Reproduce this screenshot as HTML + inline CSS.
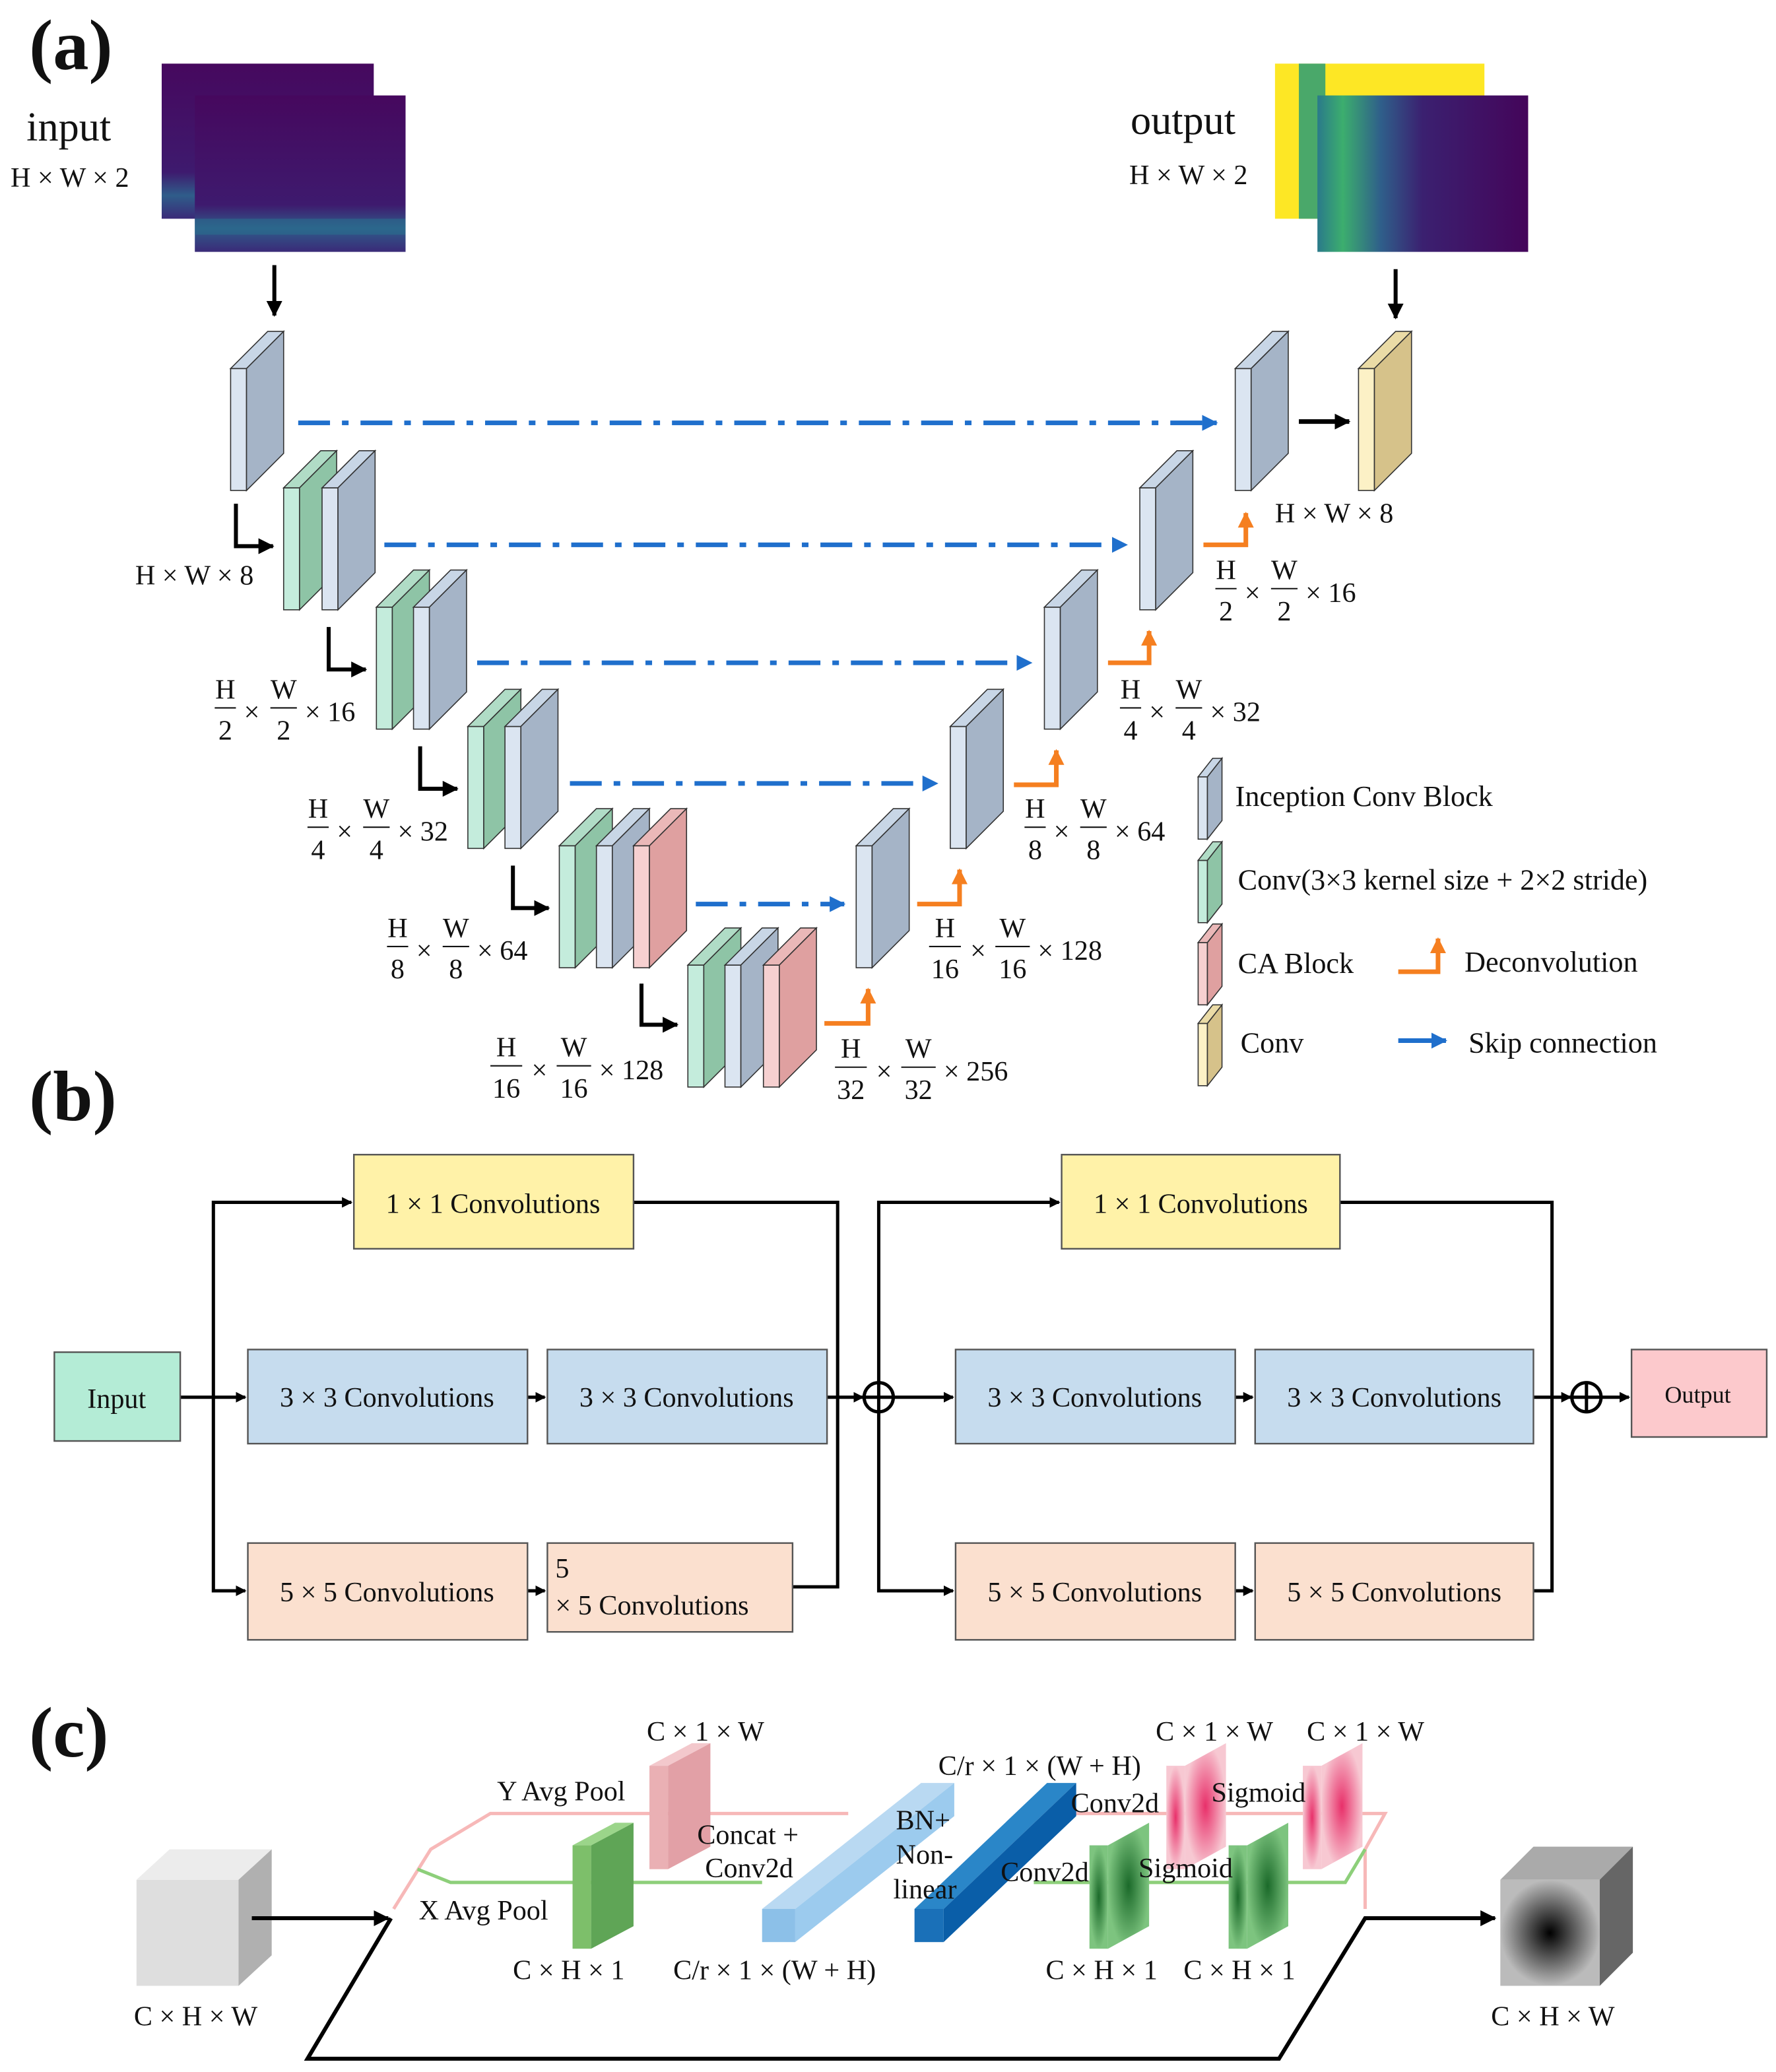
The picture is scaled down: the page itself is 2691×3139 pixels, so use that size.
<!DOCTYPE html>
<html><head><meta charset="utf-8"><style>html,body{margin:0;padding:0;background:#fff}svg{display:block}text{font-family:"Liberation Serif",serif;fill:#111}</style></head>
<body>
<svg width="2691" height="3139" viewBox="0 0 1340 1563" preserveAspectRatio="none" xmlns="http://www.w3.org/2000/svg">
<defs>
<linearGradient id="spec" x1="0" y1="0" x2="0" y2="1"><stop offset="0" stop-color="#46085e"/><stop offset="0.7" stop-color="#3e1a6e"/><stop offset="0.85" stop-color="#2f5d8a"/><stop offset="1" stop-color="#3a2a78"/></linearGradient>
<linearGradient id="spec2" x1="0" y1="0" x2="1" y2="0"><stop offset="0" stop-color="#2a7a8a"/><stop offset="0.12" stop-color="#3cae6e"/><stop offset="0.3" stop-color="#2f5f8a"/><stop offset="0.5" stop-color="#3b2070"/><stop offset="1" stop-color="#44055a"/></linearGradient>
<radialGradient id="gg"><stop offset="0" stop-color="#1b6a2a"/><stop offset="1" stop-color="#7dc47f"/></radialGradient>
<radialGradient id="pg"><stop offset="0" stop-color="#e8306a"/><stop offset="1" stop-color="#f7c8d2"/></radialGradient>
<radialGradient id="dg"><stop offset="0" stop-color="#000"/><stop offset="1" stop-color="#bbb"/></radialGradient>
<marker id="ab" markerWidth="8" markerHeight="8" refX="7" refY="4" orient="auto" markerUnits="userSpaceOnUse"><path d="M0,0 L8,4 L0,8z" fill="#000"/></marker>
<marker id="ab2" markerWidth="12" markerHeight="12" refX="11" refY="6" orient="auto" markerUnits="userSpaceOnUse"><path d="M0,0 L12,6 L0,12z" fill="#000"/></marker>
<marker id="abl" markerWidth="12" markerHeight="12" refX="11" refY="6" orient="auto" markerUnits="userSpaceOnUse"><path d="M0,0 L12,6 L0,12z" fill="#1f6fcc"/></marker>
<marker id="ao" markerWidth="12" markerHeight="12" refX="11" refY="6" orient="auto" markerUnits="userSpaceOnUse"><path d="M0,0 L12,6 L0,12z" fill="#f57f20"/></marker>
<g id="B"><rect x="0" y="0" width="12" height="92" fill="#dbe5f1" stroke="#333" stroke-width="0.8"/><polygon points="0,0 12,0 40,-28 28,-28" fill="#c8d6e6" stroke="#333" stroke-width="0.8"/><polygon points="12,0 40,-28 40,64 12,92" fill="#a5b4c7" stroke="#333" stroke-width="0.8"/></g>
<g id="G"><rect x="0" y="0" width="12" height="92" fill="#c4ecdc" stroke="#333" stroke-width="0.8"/><polygon points="0,0 12,0 40,-28 28,-28" fill="#b0dcc6" stroke="#333" stroke-width="0.8"/><polygon points="12,0 40,-28 40,64 12,92" fill="#8ec4a6" stroke="#333" stroke-width="0.8"/></g>
<g id="P"><rect x="0" y="0" width="12" height="92" fill="#f6d0d0" stroke="#333" stroke-width="0.8"/><polygon points="0,0 12,0 40,-28 28,-28" fill="#eab8b8" stroke="#333" stroke-width="0.8"/><polygon points="12,0 40,-28 40,64 12,92" fill="#dfa0a0" stroke="#333" stroke-width="0.8"/></g>
<g id="Y"><rect x="0" y="0" width="12" height="92" fill="#fcf1c6" stroke="#333" stroke-width="0.8"/><polygon points="0,0 12,0 40,-28 28,-28" fill="#eadba6" stroke="#333" stroke-width="0.8"/><polygon points="12,0 40,-28 40,64 12,92" fill="#d6c28a" stroke="#333" stroke-width="0.8"/></g>
</defs>

<!-- (a) -->
<text x="22" y="52" font-size="54" font-weight="bold">(a)</text>
<text x="20" y="106" font-size="31">input</text>
<text x="8" y="141" font-size="21">H × W × 2</text>
<rect x="122" y="48" width="160" height="117" fill="url(#spec)"/>
<rect x="147" y="72" width="159" height="118" fill="url(#spec)"/>
<rect x="147" y="165" width="159" height="12" fill="#2a6e8e" opacity="0.6"/>
<text x="853" y="101" font-size="31">output</text>
<text x="852" y="139" font-size="21">H × W × 2</text>
<rect x="962" y="48" width="158" height="117" fill="#fde725"/>
<rect x="980" y="48" width="20" height="117" fill="#4aa86a"/>
<rect x="994" y="72" width="159" height="118" fill="url(#spec2)"/>
<line x1="207" y1="200" x2="207" y2="238" stroke="#000" stroke-width="3" marker-end="url(#ab2)"/>
<line x1="1053" y1="203" x2="1053" y2="240" stroke="#000" stroke-width="3" marker-end="url(#ab2)"/>

<g stroke="#1f6fcc" stroke-width="3.5" fill="none" stroke-dasharray="24 9 5 9">
<line x1="225" y1="319" x2="918" y2="319" marker-end="url(#abl)"/>
<line x1="290" y1="411" x2="850" y2="411" marker-end="url(#abl)"/>
<line x1="360" y1="500" x2="778" y2="500" marker-end="url(#abl)"/>
<line x1="430" y1="591" x2="707" y2="591" marker-end="url(#abl)"/>
<line x1="525" y1="682" x2="637" y2="682" marker-end="url(#abl)"/>
</g>
<line x1="980" y1="318" x2="1018" y2="318" stroke="#000" stroke-width="3.5" marker-end="url(#ab2)"/>
<g stroke="#000" stroke-width="3" fill="none">
<polyline points="178,380 178,412 206,412" marker-end="url(#ab2)"/>
<polyline points="248,473 248,505 276,505" marker-end="url(#ab2)"/>
<polyline points="317,563 317,595 345,595" marker-end="url(#ab2)"/>
<polyline points="387,653 387,685 414,685" marker-end="url(#ab2)"/>
<polyline points="484,742 484,773 511,773" marker-end="url(#ab2)"/>
</g>
<g stroke="#f57f20" stroke-width="3.5" fill="none">
<polyline points="622,772 655,772 655,746" marker-end="url(#ao)"/>
<polyline points="692,682 724,682 724,656" marker-end="url(#ao)"/>
<polyline points="765,592 797,592 797,566" marker-end="url(#ao)"/>
<polyline points="836,500 867,500 867,476" marker-end="url(#ao)"/>
<polyline points="908,411 940,411 940,387" marker-end="url(#ao)"/>
</g>

<use href="#B" x="174" y="278"/>
<use href="#G" x="214" y="368"/><use href="#B" x="243" y="368"/>
<use href="#G" x="284" y="458"/><use href="#B" x="312" y="458"/>
<use href="#G" x="353" y="548"/><use href="#B" x="381" y="548"/>
<use href="#G" x="422" y="638"/><use href="#B" x="450" y="638"/><use href="#P" x="478" y="638"/>
<use href="#G" x="519" y="728"/><use href="#B" x="547" y="728"/><use href="#P" x="576" y="728"/>
<use href="#B" x="646" y="638"/>
<use href="#B" x="717" y="548"/>
<use href="#B" x="788" y="458"/>
<use href="#B" x="860" y="368"/>
<use href="#B" x="932" y="278"/>
<use href="#Y" x="1025" y="278"/>

<g font-size="21">
<text x="102" y="441">H × W × 8</text>
<text x="962" y="394">H × W × 8</text>
</g>
<g font-size="21" text-anchor="middle">
<g transform="translate(162,0)"><text x="8" y="527">H</text><line x1="0" y1="534" x2="16" y2="534" stroke="#111"/><text x="8" y="558">2</text><text x="28" y="544">×</text><text x="52" y="527">W</text><line x1="42" y1="534" x2="62" y2="534" stroke="#111"/><text x="68" y="544" text-anchor="start">× 16</text></g>
<g transform="translate(232,90)"><text x="8" y="527">H</text><line x1="0" y1="534" x2="16" y2="534" stroke="#111"/><text x="8" y="558">4</text><text x="28" y="544">×</text><text x="52" y="527">W</text><line x1="42" y1="534" x2="62" y2="534" stroke="#111"/><text x="52" y="558">4</text><text x="68" y="544" text-anchor="start">× 32</text></g>
<g transform="translate(292,180)"><text x="8" y="527">H</text><line x1="0" y1="534" x2="16" y2="534" stroke="#111"/><text x="8" y="558">8</text><text x="28" y="544">×</text><text x="52" y="527">W</text><line x1="42" y1="534" x2="62" y2="534" stroke="#111"/><text x="52" y="558">8</text><text x="68" y="544" text-anchor="start">× 64</text></g>
<g transform="translate(370,270)"><text x="12" y="527">H</text><line x1="0" y1="534" x2="24" y2="534" stroke="#111"/><text x="12" y="558">16</text><text x="37" y="544">×</text><text x="63" y="527">W</text><line x1="50" y1="534" x2="76" y2="534" stroke="#111"/><text x="63" y="558">16</text><text x="82" y="544" text-anchor="start">× 128</text></g>
<g transform="translate(630,271)"><text x="12" y="527">H</text><line x1="0" y1="534" x2="24" y2="534" stroke="#111"/><text x="12" y="558">32</text><text x="37" y="544">×</text><text x="63" y="527">W</text><line x1="50" y1="534" x2="76" y2="534" stroke="#111"/><text x="63" y="558">32</text><text x="82" y="544" text-anchor="start">× 256</text></g>
<g transform="translate(701,180)"><text x="12" y="527">H</text><line x1="0" y1="534" x2="24" y2="534" stroke="#111"/><text x="12" y="558">16</text><text x="37" y="544">×</text><text x="63" y="527">W</text><line x1="50" y1="534" x2="76" y2="534" stroke="#111"/><text x="63" y="558">16</text><text x="82" y="544" text-anchor="start">× 128</text></g>
<g transform="translate(773,90)"><text x="8" y="527">H</text><line x1="0" y1="534" x2="16" y2="534" stroke="#111"/><text x="8" y="558">8</text><text x="28" y="544">×</text><text x="52" y="527">W</text><line x1="42" y1="534" x2="62" y2="534" stroke="#111"/><text x="52" y="558">8</text><text x="68" y="544" text-anchor="start">× 64</text></g>
<g transform="translate(845,0)"><text x="8" y="527">H</text><line x1="0" y1="534" x2="16" y2="534" stroke="#111"/><text x="8" y="558">4</text><text x="28" y="544">×</text><text x="52" y="527">W</text><line x1="42" y1="534" x2="62" y2="534" stroke="#111"/><text x="52" y="558">4</text><text x="68" y="544" text-anchor="start">× 32</text></g>
<g transform="translate(917,-90)"><text x="8" y="527">H</text><line x1="0" y1="534" x2="16" y2="534" stroke="#111"/><text x="8" y="558">2</text><text x="28" y="544">×</text><text x="52" y="527">W</text><line x1="42" y1="534" x2="62" y2="534" stroke="#111"/><text x="52" y="558">2</text><text x="68" y="544" text-anchor="start">× 16</text></g>
</g>
<text x="214" y="558" font-size="21" text-anchor="middle">2</text>

<!-- legend -->
<g stroke="#333" stroke-width="0.8">
<rect x="904" y="586" width="7" height="47" fill="#dbe5f1"/><polygon points="911,586 922,572 922,619 911,633" fill="#a5b4c7"/><polygon points="904,586 911,586 922,572 915,572" fill="#c8d6e6"/>
<rect x="904" y="649" width="7" height="47" fill="#c4ecdc"/><polygon points="911,649 922,635 922,682 911,696" fill="#8ec4a6"/><polygon points="904,649 911,649 922,635 915,635" fill="#b0dcc6"/>
<rect x="904" y="711" width="7" height="47" fill="#f6d0d0"/><polygon points="911,711 922,697 922,744 911,758" fill="#dfa0a0"/><polygon points="904,711 911,711 922,697 915,697" fill="#eab8b8"/>
<rect x="904" y="772" width="7" height="47" fill="#fcf1c6"/><polygon points="911,772 922,758 922,805 911,819" fill="#d6c28a"/><polygon points="904,772 911,772 922,758 915,758" fill="#eadba6"/>
</g>
<g font-size="22">
<text x="932" y="608">Inception Conv Block</text>
<text x="934" y="671">Conv(3×3 kernel size + 2×2 stride)</text>
<text x="934" y="734">CA Block</text>
<text x="936" y="794">Conv</text>
<text x="1105" y="733">Deconvolution</text>
<text x="1108" y="794">Skip connection</text>
</g>
<polyline points="1055,733 1085,733 1085,708" stroke="#f57f20" stroke-width="3.5" fill="none" marker-end="url(#ao)"/>
<line x1="1055" y1="785" x2="1091" y2="785" stroke="#1f6fcc" stroke-width="3.5" marker-end="url(#abl)"/>

<!-- (b) -->
<text x="22" y="845" font-size="54" font-weight="bold">(b)</text>
<g stroke="#000" stroke-width="2.5" fill="none">
<line x1="136" y1="1054" x2="185" y2="1054" marker-end="url(#ab)"/>
<polyline points="265,907 161,907 161,1200 185,1200" marker-end="url(#ab)"/>
<line x1="161" y1="907" x2="265" y2="907" marker-end="url(#ab)"/>
<line x1="398" y1="1054" x2="411" y2="1054" marker-end="url(#ab)"/>
<line x1="398" y1="1200" x2="411" y2="1200" marker-end="url(#ab)"/>
<polyline points="478,907 632,907 632,1197 598,1197"/>
<line x1="624" y1="1054" x2="651" y2="1054" marker-end="url(#ab)"/>
<line x1="674" y1="1054" x2="719" y2="1054" marker-end="url(#ab)"/>
<polyline points="799,907 663,907 663,1200 719,1200" marker-end="url(#ab)"/>
<line x1="663" y1="907" x2="799" y2="907" marker-end="url(#ab)"/>
<line x1="932" y1="1054" x2="945" y2="1054" marker-end="url(#ab)"/>
<line x1="932" y1="1200" x2="945" y2="1200" marker-end="url(#ab)"/>
<polyline points="1011,907 1171,907 1171,1200 1157,1200"/>
<line x1="1157" y1="1054" x2="1185" y2="1054" marker-end="url(#ab)"/>
<line x1="1209" y1="1054" x2="1229" y2="1054" marker-end="url(#ab)"/>
<circle cx="663" cy="1054" r="11" fill="#fff"/><line x1="652" y1="1054" x2="674" y2="1054"/><line x1="663" y1="1043" x2="663" y2="1065"/>
<circle cx="1197" cy="1054" r="11" fill="#fff"/><line x1="1186" y1="1054" x2="1208" y2="1054"/><line x1="1197" y1="1043" x2="1197" y2="1065"/>
</g>
<g stroke="#555" stroke-width="1.2" font-size="21">
<rect x="41" y="1020" width="95" height="67" fill="#b4ecd6"/>
<rect x="267" y="871" width="211" height="71" fill="#fff2a8"/>
<rect x="187" y="1018" width="211" height="71" fill="#c6dcee"/>
<rect x="413" y="1018" width="211" height="71" fill="#c6dcee"/>
<rect x="187" y="1164" width="211" height="73" fill="#fbe0cf"/>
<rect x="413" y="1164" width="185" height="67" fill="#fbe0cf"/>
<rect x="801" y="871" width="210" height="71" fill="#fff2a8"/>
<rect x="721" y="1018" width="211" height="71" fill="#c6dcee"/>
<rect x="947" y="1018" width="210" height="71" fill="#c6dcee"/>
<rect x="721" y="1164" width="211" height="73" fill="#fbe0cf"/>
<rect x="947" y="1164" width="210" height="73" fill="#fbe0cf"/>
<rect x="1231" y="1018" width="102" height="66" fill="#fcc9cc"/>
</g>
<g font-size="21" text-anchor="middle" font-family="Liberation Sans">
<text x="88" y="1062" style="font-family:'Liberation Serif'">Input</text>
<text x="372" y="915">1 × 1 Convolutions</text>
<text x="292" y="1061">3 × 3 Convolutions</text>
<text x="518" y="1061">3 × 3 Convolutions</text>
<text x="292" y="1208">5 × 5 Convolutions</text>
<text x="906" y="915">1 × 1 Convolutions</text>
<text x="826" y="1061">3 × 3 Convolutions</text>
<text x="1052" y="1061">3 × 3 Convolutions</text>
<text x="826" y="1208">5 × 5 Convolutions</text>
<text x="1052" y="1208">5 × 5 Convolutions</text>
<text x="1281" y="1058" font-size="18">Output</text>
</g>
<text x="419" y="1190" font-size="21">5</text>
<text x="419" y="1218" font-size="21">× 5 Convolutions</text>

<!-- (c) -->
<text x="22" y="1325" font-size="54" font-weight="bold">(c)</text>
<rect x="103" y="1418" width="77" height="80" fill="#dedede"/>
<polygon points="103,1418 180,1418 205,1395 128,1395" fill="#ececec"/>
<polygon points="180,1418 205,1395 205,1475 180,1498" fill="#b0b0b0"/>
<rect x="1132" y="1418" width="75" height="80" fill="url(#dg)"/>
<polygon points="1132,1418 1207,1418 1232,1393 1157,1393" fill="#aaa"/>
<polygon points="1207,1418 1232,1393 1232,1473 1207,1498" fill="#666"/>
<g stroke="#000" stroke-width="3" fill="none">
<line x1="190" y1="1447" x2="293" y2="1447" marker-end="url(#ab2)"/>
<polyline points="295,1447 232,1553 965,1553 1030,1447 1128,1447" marker-end="url(#ab2)"/>
</g>
<g fill="none" stroke-width="2.5">
<polyline points="297,1440 325,1395 370,1368 640,1368" stroke="#f7b8b8"/>
<polyline points="315,1410 340,1420 575,1420" stroke="#8dcf7a"/>
<polyline points="800,1368 1045,1368 1030,1395 1030,1440" stroke="#f7b8b8"/>
<polyline points="780,1420 1015,1420 1030,1395" stroke="#8dcf7a"/>
</g>
<g>
<rect x="432" y="1392" width="14" height="78" fill="#7dbf6a"/><polygon points="446,1392 478,1375 478,1453 446,1470" fill="#5fa556"/><polygon points="432,1392 446,1392 478,1375 464,1375" fill="#9bd58a"/>
<rect x="490" y="1332" width="14" height="78" fill="#eab0b4"/><polygon points="504,1332 536,1315 536,1393 504,1410" fill="#e2a0a6"/><polygon points="490,1332 504,1332 536,1315 522,1315" fill="#f3c8cc"/>
<polygon points="575,1440 695,1345 720,1345 600,1440" fill="#b9d9f2"/><polygon points="600,1440 720,1345 720,1370 600,1465" fill="#9ccbee"/><rect x="575" y="1440" width="25" height="25" fill="#8cc0e8"/>
<polygon points="690,1440 790,1345 812,1345 712,1440" fill="#2a86c8"/><polygon points="712,1440 812,1345 812,1370 712,1465" fill="#0a5ea8"/><rect x="690" y="1440" width="22" height="25" fill="#1a70b8"/>
<rect x="822" y="1392" width="14" height="78" fill="url(#gg)"/><polygon points="836,1392 867,1375 867,1453 836,1470" fill="url(#gg)"/>
<rect x="927" y="1392" width="14" height="78" fill="url(#gg)"/><polygon points="941,1392 972,1375 972,1453 941,1470" fill="url(#gg)"/>
<rect x="880" y="1332" width="14" height="78" fill="url(#pg)"/><polygon points="894,1332 925,1315 925,1393 894,1410" fill="url(#pg)"/>
<rect x="983" y="1332" width="14" height="78" fill="url(#pg)"/><polygon points="997,1332 1028,1315 1028,1393 997,1410" fill="url(#pg)"/>
</g>
<g font-size="21">
<text x="101" y="1528">C × H × W</text>
<text x="1125" y="1528">C × H × W</text>
<text x="375" y="1358">Y Avg Pool</text>
<text x="316" y="1448">X Avg Pool</text>
<text x="488" y="1313">C × 1 × W</text>
<text x="387" y="1493">C × H × 1</text>
<text x="526" y="1391">Concat +</text>
<text x="532" y="1416">Conv2d</text>
<text x="508" y="1493">C/r × 1 × (W + H)</text>
<text x="708" y="1339">C/r × 1 × (W + H)</text>
<text x="676" y="1380">BN+</text>
<text x="676" y="1406">Non-</text>
<text x="674" y="1432">linear</text>
<text x="808" y="1367">Conv2d</text>
<text x="755" y="1419">Conv2d</text>
<text x="914" y="1359">Sigmoid</text>
<text x="859" y="1416">Sigmoid</text>
<text x="872" y="1313">C × 1 × W</text>
<text x="986" y="1313">C × 1 × W</text>
<text x="789" y="1493">C × H × 1</text>
<text x="893" y="1493">C × H × 1</text>
</g>
</svg>
</body></html>
